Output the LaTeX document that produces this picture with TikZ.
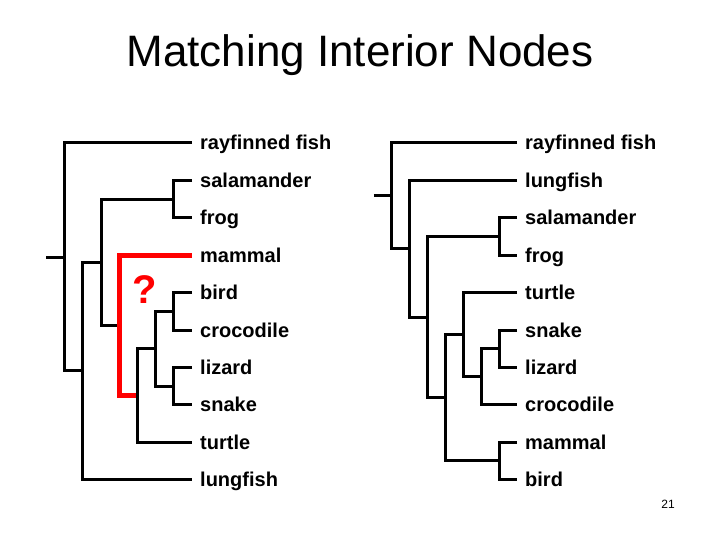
\documentclass[tikz,border=0pt]{standalone}
\usepackage{fontspec}
\setmainfont{Liberation Sans}
\usepackage{tikz}
\usetikzlibrary{positioning}
\tikzstyle{leaf} = [inner sep=0pt, text height=14pt, text depth=0pt, font=\bfseries\fontsize{20}{24}\selectfont]
\tikzstyle{branch} = [line width=3pt]
\tikzstyle{moved} = [line width=5pt, red]

\begin{document}
\begin{tikzpicture}[x=1pt,y=-1pt]
  \useasboundingbox (0,0) rectangle (720,540);
  \node[font=\fontsize{44}{52}\selectfont, anchor=base, inner sep=0pt] (heading) at (360,67) {Matching Interior Nodes};

  % tips of the left tree
  \coordinate (t_ray_L) at (192,143);
  \coordinate (t_sal_L) at (192,180.4);
  \coordinate (t_frog_L) at (192,217.8);
  \coordinate (t_mam_L) at (192,255.2);
  \coordinate (t_bird_L) at (192,292.6);
  \coordinate (t_croc_L) at (192,330);
  \coordinate (t_liz_L) at (192,367.4);
  \coordinate (t_snake_L) at (192,404.8);
  \coordinate (t_turt_L) at (192,442.2);
  \coordinate (t_lung_L) at (192,479.6);

  % tips of the right tree
  \coordinate (t_ray_R) at (517,143);
  \coordinate (t_lung_R) at (517,180.4);
  \coordinate (t_sal_R) at (517,217.8);
  \coordinate (t_frog_R) at (517,255.2);
  \coordinate (t_turt_R) at (517,292.6);
  \coordinate (t_snake_R) at (517,330);
  \coordinate (t_liz_R) at (517,367.4);
  \coordinate (t_croc_R) at (517,404.8);
  \coordinate (t_mam_R) at (517,442.2);
  \coordinate (t_bird_R) at (517,479.6);

  \node[leaf, right=8pt of t_ray_L] (ray_L) {rayfinned fish};
  \node[leaf, right=8pt of t_sal_L] (sal_L) {salamander};
  \node[leaf, right=8pt of t_frog_L] (frog_L) {frog};
  \node[leaf, right=8pt of t_mam_L] (mam_L) {mammal};
  \node[leaf, right=8pt of t_bird_L] (bird_L) {bird};
  \node[leaf, right=8pt of t_croc_L] (croc_L) {crocodile};
  \node[leaf, right=8pt of t_liz_L] (liz_L) {lizard};
  \node[leaf, right=8pt of t_snake_L] (snake_L) {snake};
  \node[leaf, right=8pt of t_turt_L] (turt_L) {turtle};
  \node[leaf, right=8pt of t_lung_L] (lung_L) {lungfish};

  \node[leaf, right=8pt of t_ray_R] (ray_R) {rayfinned fish};
  \node[leaf, right=8pt of t_lung_R] (lung_R) {lungfish};
  \node[leaf, right=8pt of t_sal_R] (sal_R) {salamander};
  \node[leaf, right=8pt of t_frog_R] (frog_R) {frog};
  \node[leaf, right=8pt of t_turt_R] (turt_R) {turtle};
  \node[leaf, right=8pt of t_snake_R] (snake_R) {snake};
  \node[leaf, right=8pt of t_liz_R] (liz_R) {lizard};
  \node[leaf, right=8pt of t_croc_R] (croc_R) {crocodile};
  \node[leaf, right=8pt of t_mam_R] (mam_R) {mammal};
  \node[leaf, right=8pt of t_bird_R] (bird_R) {bird};

  % interior nodes, left
  \coordinate (sal_frog_L) at (173.8,199.1);
  \coordinate (bird_croc_L) at (173.8,311.3);
  \coordinate (liz_snake_L) at (173.8,386.1);
  \coordinate (reptile_L) at (155.6,348.7);
  \coordinate (turtle_L) at (137.4,395.4);
  \coordinate (moved_L) at (119.2,325.3);
  \coordinate (amphib_L) at (101,262.2);
  \coordinate (lobe_L) at (82.8,370.9);
  \coordinate (root_L) at (64.6,257);
  \coordinate (stub_L) at (46.4,257);

  % interior nodes, right
  \coordinate (sal_frog_R) at (499.1,236.5);
  \coordinate (snake_liz_R) at (499.1,348.7);
  \coordinate (mam_bird_R) at (499.1,460.9);
  \coordinate (crocs_R) at (481.2,376.8);
  \coordinate (turtle_R) at (463.3,334.7);
  \coordinate (amniote_R) at (445.4,397.8);
  \coordinate (amphib_R) at (427.5,317.2);
  \coordinate (lobe_R) at (409.6,248.8);
  \coordinate (root_R) at (391.7,195.9);
  \coordinate (stub_R) at (373.8,195.9);

  % left tree
  \draw[branch] (stub_L) -- (root_L);
  \draw[branch] (t_ray_L) -| (root_L) |- (lobe_L);
  \draw[branch] (amphib_L) -| (lobe_L) |- (t_lung_L);
  \draw[branch] (sal_frog_L) -| (amphib_L) |- (moved_L);
  \draw[branch] (t_sal_L) -| (sal_frog_L) |- (t_frog_L);
  \draw[moved] (t_mam_L) -| (moved_L) |- (turtle_L);
  \draw[branch] (reptile_L) -| (turtle_L) |- (t_turt_L);
  \draw[branch] (bird_croc_L) -| (reptile_L) |- (liz_snake_L);
  \draw[branch] (t_bird_L) -| (bird_croc_L) |- (t_croc_L);
  \draw[branch] (t_liz_L) -| (liz_snake_L) |- (t_snake_L);
  \node[font=\bfseries\fontsize{40}{48}\selectfont, text=red, inner sep=0pt] (query) at (145,290) {?};

  % right tree
  \draw[branch] (stub_R) -- (root_R);
  \draw[branch] (t_ray_R) -| (root_R) |- (lobe_R);
  \draw[branch] (t_lung_R) -| (lobe_R) |- (amphib_R);
  \draw[branch] (sal_frog_R) -| (amphib_R) |- (amniote_R);
  \draw[branch] (t_sal_R) -| (sal_frog_R) |- (t_frog_R);
  \draw[branch] (turtle_R) -| (amniote_R) |- (mam_bird_R);
  \draw[branch] (t_turt_R) -| (turtle_R) |- (crocs_R);
  \draw[branch] (snake_liz_R) -| (crocs_R) |- (t_croc_R);
  \draw[branch] (t_snake_R) -| (snake_liz_R) |- (t_liz_R);
  \draw[branch] (t_mam_R) -| (mam_bird_R) |- (t_bird_R);

  \node[font=\fontsize{12}{14}\selectfont] (pagenum) at (668,504) {21};
\end{tikzpicture}
\end{document}
